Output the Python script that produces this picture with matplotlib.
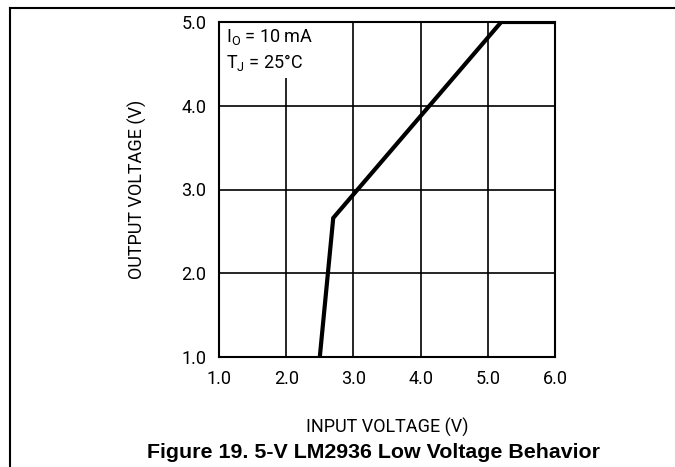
import matplotlib
matplotlib.use("Agg")
import matplotlib.pyplot as plt
from matplotlib.patches import Rectangle
from matplotlib.lines import Line2D

# Data
input_voltage = [2.50, 2.70, 5.20, 6.00]
output_voltage = [1.00, 2.66, 5.00, 5.00]
x_ticks = [1.0, 2.0, 3.0, 4.0, 5.0, 6.0]
y_ticks = [1.0, 2.0, 3.0, 4.0, 5.0]
x_tick_labels = ["1.0", "2.0", "3.0", "4.0", "5.0", "6.0"]
y_tick_labels = ["1.0", "2.0", "3.0", "4.0", "5.0"]

narrow = ["Roboto", "DejaVu Sans"]
fs = 13
fw = "normal"

fig = plt.figure(figsize=(6.75, 4.67), dpi=100)
ax = fig.add_axes([219/675, 1-357/467, 336/675, 335/467])

ax.set_xlim(1.0, 6.0)
ax.set_ylim(1.0, 5.0)
ax.set_xticks(x_ticks)
ax.set_yticks(y_ticks)
ax.set_xticklabels(x_tick_labels, family=narrow, fontsize=fs, fontweight=fw)
ax.set_yticklabels(y_tick_labels, family=narrow, fontsize=fs, fontweight=fw)
ax.tick_params(length=0, pad=9)
ax.grid(True, color="black", linewidth=1.2)
ax.set_axisbelow(True)
for s in ax.spines.values():
    s.set_linewidth(1.5)

# blank area behind annotation
ax.add_patch(Rectangle((1.0, 4.33), 1.3, 0.67, facecolor="white", edgecolor="none", zorder=1.5))

ax.plot(input_voltage, output_voltage, color="black", linewidth=3.0, zorder=3,
        solid_joinstyle="miter")

ax.text(1.1, 4.82, r"I$_\mathregular{O}$ = 10 mA", family=narrow, fontsize=fs, fontweight=fw,
        va="center", ha="left", zorder=4)
ax.text(1.1, 4.52, r"T$_\mathregular{J}$ = 25°C", family=narrow, fontsize=fs, fontweight=fw,
        va="center", ha="left", zorder=4)

ax.set_xlabel("INPUT VOLTAGE (V)", family=narrow, fontsize=fs, fontweight=fw, labelpad=22)
ax.set_ylabel("OUTPUT VOLTAGE (V)", family=narrow, fontsize=fs, fontweight=fw, labelpad=25)

fig.text(373/675, 1-452/467, "Figure 19. 5-V LM2936 Low Voltage Behavior",
         family=["Liberation Sans", "DejaVu Sans"], fontweight="bold", fontsize=15.4,
         ha="center", va="center")

# figure frame lines
fig.add_artist(Line2D([10/675, 1.0], [1-8/467, 1-8/467], color="black", linewidth=1.5, transform=fig.transFigure))
fig.add_artist(Line2D([10/675, 10/675], [0, 1-8/467], color="black", linewidth=1.5, transform=fig.transFigure))

fig.savefig("out.png", dpi=100)
